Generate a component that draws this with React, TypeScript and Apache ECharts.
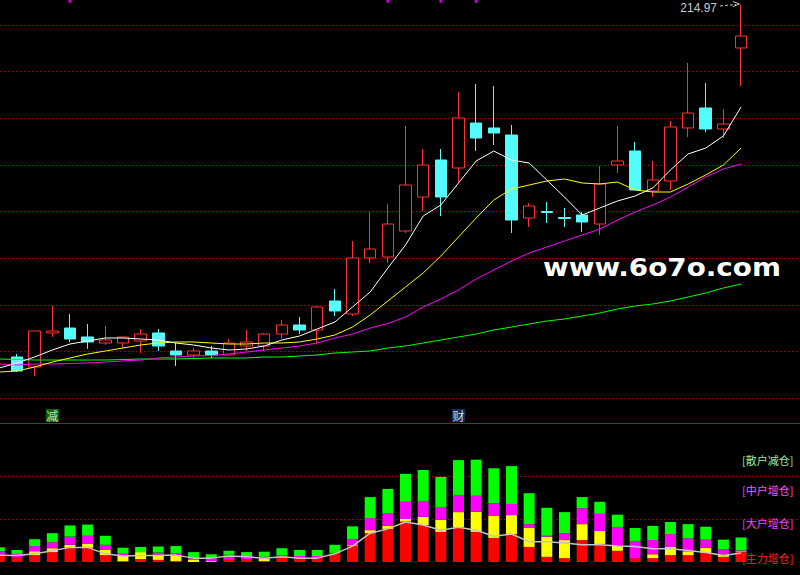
import React, { useEffect, useRef } from 'react';
import * as echarts from 'echarts';

const days = [
  'd00', 'd01', 'd02', 'd03', 'd04', 'd05', 'd06', 'd07', 'd08', 'd09', 'd10',
  'd11', 'd12', 'd13', 'd14', 'd15', 'd16', 'd17', 'd18', 'd19', 'd20', 'd21',
  'd22', 'd23', 'd24', 'd25', 'd26', 'd27', 'd28', 'd29', 'd30', 'd31', 'd32',
  'd33', 'd34', 'd35', 'd36', 'd37', 'd38', 'd39', 'd40', 'd41', 'd42',
];

// [open, close, low, high]
const candles: any[] = [
  ['-', '-', '-', '-'],
  [94.07, 89.27, 88.92, 95.1],
  [90.64, 102.99, 87.55, 102.99],
  [102.31, 102.99, 100.94, 111.57],
  [104.02, 100.25, 99.22, 108.83],
  [100.94, 99.22, 96.82, 105.39],
  [98.87, 99.9, 98.19, 104.71],
  [98.87, 100.94, 97.16, 100.94],
  [99.56, 101.96, 95.44, 103.68],
  [102.31, 97.84, 96.13, 103.68],
  [96.13, 94.76, 90.98, 98.87],
  [94.76, 96.13, 93.73, 97.16],
  [96.13, 94.76, 93.73, 97.84],
  [94.76, 98.87, 94.76, 100.25],
  [97.84, 99.22, 96.13, 103.34],
  [97.84, 101.96, 96.13, 102.31],
  [101.96, 105.05, 100.25, 106.77],
  [105.05, 103.34, 101.96, 107.8],
  [103.34, 111.23, 98.87, 111.57],
  [113.29, 109.86, 108.14, 117.4],
  [108.83, 128.05, 108.14, 133.88],
  [128.05, 131.13, 126.33, 143.83],
  [128.39, 139.71, 126.33, 146.57],
  [137.31, 153.09, 136.62, 173.34],
  [148.97, 159.95, 144.17, 165.45],
  [161.67, 148.97, 142.45, 165.45],
  [158.93, 176.09, 154.12, 185.01],
  [174.37, 169.22, 164.76, 187.75],
  [172.66, 170.94, 166.82, 187.07],
  [170.25, 141.08, 136.62, 173.69],
  [141.77, 145.89, 138.68, 146.92],
  [144.0, 143.66, 140.05, 147.26],
  [141.94, 141.6, 138.68, 145.2],
  [142.8, 140.4, 136.97, 143.83],
  [139.71, 153.44, 135.94, 159.61],
  [159.95, 161.33, 157.21, 173.34],
  [164.76, 151.38, 151.38, 167.85],
  [151.03, 154.81, 148.97, 161.33],
  [154.47, 173.0, 151.38, 175.06],
  [172.66, 177.8, 169.57, 194.96],
  [179.52, 172.31, 171.28, 188.1],
  [172.31, 174.03, 169.22, 179.18],
  [200.11, 204.22, 187.07, 214.97],
];

const ma5 = [
  90.3, 92.01, 94.07, 96.47, 98.53, 99.56, 100.59, 100.59, 100.25, 99.9, 98.87,
  98.19, 97.16, 96.47, 96.82, 97.84, 99.9, 101.28, 103.68, 106.08, 111.23, 116.38,
  124.61, 132.5, 142.46, 146.23, 153.78, 161.33, 164.76, 161.67, 160.64, 154.81,
  148.98, 142.8, 145.2, 147.6, 149.32, 152.06, 158.24, 163.73, 165.79, 169.91, 179.86,
];
const ma10 = [
  88.92, 89.27, 90.64, 92.35, 93.73, 95.1, 96.13, 97.16, 98.19, 98.87, 99.22,
  99.22, 98.87, 98.53, 98.53, 98.87, 98.87, 99.22, 100.25, 101.62, 104.36, 108.48,
  113.29, 118.09, 122.9, 128.73, 135.25, 141.77, 147.95, 151.72, 153.09, 154.47,
  155.15, 153.78, 153.44, 154.12, 151.38, 150.69, 150.69, 153.44, 156.53, 159.96, 165.79,
];
const ma20 = [
  91.67, 91.32, 91.67, 91.67, 91.84, 92.01, 92.35, 92.7, 93.04, 93.73, 94.07,
  94.41, 94.58, 95.1, 95.79, 96.47, 97.16, 97.84, 98.87, 100.59, 101.96, 104.02,
  105.56, 107.8, 111.23, 113.97, 117.06, 120.84, 123.93, 127.01, 129.76, 131.82,
  133.88, 135.94, 137.99, 141.08, 143.83, 146.23, 148.98, 152.41, 155.84, 158.58, 160.3,
];
const ma60 = [
  93.38, 93.21, 93.04, 93.04, 93.04, 93.04, 93.04, 93.21, 93.38, 93.38, 93.38,
  93.56, 93.73, 93.73, 93.73, 94.07, 94.07, 94.41, 94.76, 95.44, 95.79, 96.13,
  97.16, 97.84, 98.87, 99.9, 100.94, 101.96, 103.34, 104.36, 105.39, 106.42,
  107.11, 108.14, 109.17, 110.54, 111.57, 112.26, 113.29, 114.66, 116.03, 117.75, 119.12,
];

// lower panel: stacked flows
const mainForce = [
  16, 12, 16, 23, 33, 33, 16, 2, 7, 5, 2, 0, 0, 5, 7, 2, 14, 9, 9, 21, 37, 67,
  77, 94, 86, 70, 81, 70, 56, 65, 35, 12, 9, 51, 42, 26, 9, 9, 16, 16, 21, 12, 23,
];
const bigHolders = [
  0, 0, 9, 9, 7, 9, 12, 12, 16, 12, 14, 6, 2, 0, 0, 5, 0, 0, 0, 0, 2, 7,
  7, 6, 19, 28, 35, 47, 51, 44, 44, 47, 42, 37, 30, 12, 0, 9, 19, 9, 12, 5, 2,
];
const midHolders = [
  9, 7, 12, 14, 19, 19, 12, 5, 0, 5, 5, 3, 7, 12, 7, 5, 2, 5, 5, 0, 14, 28,
  30, 40, 37, 30, 40, 37, 30, 26, 9, 2, 16, 37, 40, 42, 40, 33, 30, 30, 19, 12, 2,
];
const retail = [
  9, 9, 16, 21, 26, 26, 21, 14, 12, 14, 16, 14, 9, 9, 9, 12, 16, 14, 14, 19, 30, 49,
  56, 65, 72, 70, 81, 84, 81, 88, 72, 65, 49, 26, 28, 30, 30, 33, 28, 33, 30, 23, 30,
];
const flowLine = [
  16, 15, 19, 26, 34, 34, 19, 14, 15, 15, 16, 9, 9, 14, 12, 9, 12, 9, 9, 19, 37, 67,
  77, 93, 86, 74, 81, 74, 60, 65, 47, 47, 44, 40, 40, 37, 36, 31, 31, 27, 22, 15, 21,
];

const topMarkDays = [4, 22, 25, 27];
const topMarkLevel = 216.3;
const signalDays = [3, 26];
const signalTexts = ['减', '财'];
const signalColors = ['#008000', '#0c3c72'];
const signalLevel = 74;
const lastHighText = '214.97';

const legendTexts = ['[散户减仓]', '[中户增仓]', '[大户增仓]', '[主力增仓]'];
const legendColors = ['#9be89b', '#ff50ff', '#ff40ff', '#ff2020'];
const legendY = [459.5, 489.5, 522.5, 557.5];

const RED = '#ff3232';
const CYAN = '#54fcfc';
const GRID_RED = '#b80000';

export default function App() {
  const ref = useRef<HTMLDivElement>(null);
  useEffect(() => {
    if (!ref.current) return;
    const chart = echarts.init(ref.current, undefined, { renderer: 'svg' });
    const hiddenAxis = {
      axisLine: { show: false },
      axisTick: { show: false },
      axisLabel: { show: false },
      splitLine: { show: false },
    };
    const dotted = { show: true, lineStyle: { color: GRID_RED, type: [1, 3], width: 1 } };
    const option: any = {
      animation: false,
      backgroundColor: '#000000',
      grid: [
        { left: -9.5, right: 50.1, top: -21.625, height: 419.625, outerBoundsMode: 'none' },
        { left: -9.5, right: 50.1, top: 433, height: 129, outerBoundsMode: 'none' },
        { left: 0, right: 0, top: 25, height: 373, outerBoundsMode: 'none' },
        { left: 0, right: 0, top: 476, height: 43, outerBoundsMode: 'none' },
      ],
      xAxis: [
        { type: 'category', gridIndex: 0, data: days, boundaryGap: true, ...hiddenAxis },
        { type: 'category', gridIndex: 1, data: days, boundaryGap: true, ...hiddenAxis },
        { type: 'value', gridIndex: 2, min: 0, max: 1, ...hiddenAxis },
        { type: 'value', gridIndex: 3, min: 0, max: 1, ...hiddenAxis },
      ],
      yAxis: [
        { type: 'value', gridIndex: 0, min: 80, max: 224, scale: true, ...hiddenAxis },
        { type: 'value', gridIndex: 1, min: 0, max: 300, ...hiddenAxis },
        { type: 'value', gridIndex: 2, min: 80, max: 208, interval: 16, ...hiddenAxis, splitLine: dotted },
        { type: 'value', gridIndex: 3, min: 100, max: 200, interval: 100, ...hiddenAxis, splitLine: dotted },
      ],
      series: [
        {
          type: 'candlestick',
          xAxisIndex: 0,
          yAxisIndex: 0,
          data: candles,
          barWidth: 12,
          clip: false,
          silent: true,
          z: 2,
          itemStyle: {
            color: '#000000',
            color0: CYAN,
            borderColor: RED,
            borderColor0: CYAN,
            borderWidth: 1,
          },
        },
        ...[
          [ma60, '#00ff00'],
          [ma20, '#ff00ff'],
          [ma10, '#ffff00'],
          [ma5, '#ffffff'],
        ].map(([d, c]) => ({
          type: 'line',
          xAxisIndex: 0,
          yAxisIndex: 0,
          data: d,
          symbol: 'none',
          showSymbol: false,
          silent: true,
          z: 3,
          lineStyle: { color: c, width: 1 },
        })),
        {
          type: 'scatter',
          xAxisIndex: 0,
          yAxisIndex: 0,
          clip: false,
          silent: true,
          symbol: 'rect',
          symbolSize: [3, 4],
          itemStyle: { color: '#ff00ff' },
          data: topMarkDays.map((d) => [d, topMarkLevel]),
          z: 4,
        },
        {
          type: 'scatter',
          xAxisIndex: 0,
          yAxisIndex: 0,
          clip: false,
          silent: true,
          symbol: 'rect',
          symbolSize: 13,
          z: 4,
          data: signalDays.map((d, i) => ({
            value: [d, signalLevel],
            name: signalTexts[i],
            itemStyle: { color: signalColors[i] },
          })),
          label: {
            show: true,
            position: 'inside',
            formatter: '{b}',
            color: '#ffffff',
            fontSize: 12,
            fontFamily: 'Noto Sans CJK SC',
          },
        },
        ...[
          [mainForce, '#ff0000'],
          [bigHolders, '#ffff00'],
          [midHolders, '#ff00ff'],
          [retail, '#00ff00'],
        ].map(([d, c]) => ({
          type: 'bar',
          xAxisIndex: 1,
          yAxisIndex: 1,
          stack: 'flow',
          data: d,
          barWidth: 11,
          silent: true,
          itemStyle: { color: c },
        })),
        {
          type: 'line',
          xAxisIndex: 1,
          yAxisIndex: 1,
          data: flowLine,
          symbol: 'none',
          showSymbol: false,
          silent: true,
          z: 5,
          lineStyle: { color: '#c4c4c4', width: 1.5 },
        },
      ],
      graphic: [
        {
          type: 'line',
          shape: { x1: 0, y1: 423.5, x2: 800, y2: 423.5 },
          style: { stroke: '#d00000', lineWidth: 1 },
          z: 50,
        },
        {
          type: 'text',
          x: 543,
          y: 267,
          scaleX: 1.113,
          z: 100,
          style: {
            text: 'www.6o7o.com',
            fill: '#ffffff',
            font: 'bold 25px "DejaVu Sans"',
            textVerticalAlign: 'middle',
            verticalAlign: 'middle',
          },
        },
        {
          type: 'text',
          x: 717,
          y: 8,
          z: 100,
          style: {
            text: lastHighText,
            fill: '#c8c8c8',
            font: '12px "Liberation Sans"',
            align: 'right',
            verticalAlign: 'middle',
          },
        },
        {
          type: 'line',
          shape: { x1: 720, y1: 6, x2: 736, y2: 4.5 },
          style: { stroke: '#c8c8c8', lineWidth: 1, lineDash: [3, 2] },
          z: 100,
        },
        {
          type: 'polyline',
          shape: { points: [[733, 1.5], [739.5, 4], [733, 6.5]] },
          style: { stroke: '#c8c8c8', lineWidth: 1, fill: 'none' },
          z: 100,
        },
        ...legendTexts.map((t, i) => ({
          type: 'text',
          x: 742,
          y: legendY[i],
          z: 100,
          style: {
            text: t,
            fill: legendColors[i],
            font: '11px "Noto Sans CJK SC"',
            verticalAlign: 'middle',
          },
        })),
      ],
    };
    chart.setOption(option);
    return () => chart.dispose();
  }, []);
  return (
    <div
      ref={ref}
      style={{ position: 'fixed', left: 0, top: 0, width: 800, height: 575, background: '#000' }}
    />
  );
}
